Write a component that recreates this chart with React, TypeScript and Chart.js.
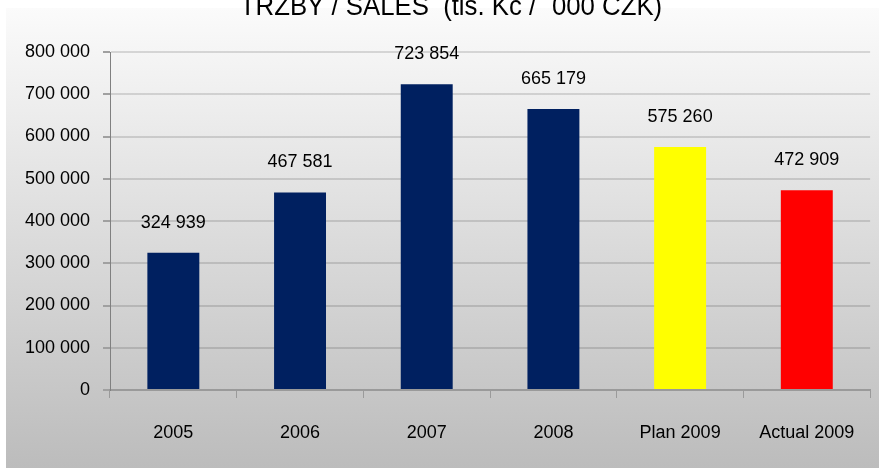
import React, { useEffect, useRef } from "react";
import { Chart, registerables } from "chart.js";

Chart.register(...registerables);

const categories = ["2005", "2006", "2007", "2008", "Plan 2009", "Actual 2009"];
const sales = [324939, 467581, 723854, 665179, 575260, 472909];
const barColors = ["#002060", "#002060", "#002060", "#002060", "#ffff00", "#ff0000"];
const titleText = "TRŽBY / SALES  (tis. Kč / ´000 CZK)";
const yMax = 800000;
const yStep = 100000;

const fmt = (v: number) => String(Math.round(v)).replace(/\B(?=(\d{3})+(?!\d))/g, " ");
const FONT = "'Liberation Sans', Arial, sans-serif";

const bgPlugin = {
  id: "bgPanel",
  beforeDraw(chart: any) {
    const { ctx, width, height } = chart;
    ctx.save();
    ctx.fillStyle = "#ffffff";
    ctx.fillRect(0, 0, width, height);
    const g = ctx.createLinearGradient(0, 8, 0, height);
    g.addColorStop(0, "#fbfbfb");
    g.addColorStop(1, "#bcbcbc");
    ctx.fillStyle = g;
    ctx.fillRect(6, 8, width - 6, height - 8);
    ctx.restore();
  },
};

const titlePlugin = {
  id: "cutTitle",
  afterDraw(chart: any) {
    const { ctx } = chart;
    ctx.save();
    ctx.font = `28px ${FONT}`;
    ctx.fillStyle = "#000000";
    ctx.textAlign = "center";
    ctx.textBaseline = "alphabetic";
    ctx.translate(451, 15);
    ctx.scale(0.92, 1);
    ctx.fillText(titleText, 0, 0);
    ctx.restore();
  },
};

const valueLabelPlugin = {
  id: "valueLabels",
  afterDatasetsDraw(chart: any) {
    const { ctx } = chart;
    const meta = chart.getDatasetMeta(0);
    const data = chart.data.datasets[0].data as number[];
    ctx.save();
    ctx.font = `18px ${FONT}`;
    ctx.fillStyle = "#000000";
    ctx.textAlign = "center";
    ctx.textBaseline = "middle";
    meta.data.forEach((bar: any, i: number) => {
      ctx.fillText(fmt(data[i]), bar.x, bar.y - 30);
    });
    ctx.restore();
  },
};

export default function App() {
  const ref = useRef<HTMLCanvasElement | null>(null);

  useEffect(() => {
    document.body.style.margin = "0";
    if (!ref.current) return;
    const chart = new Chart(ref.current, {
      type: "bar",
      data: {
        labels: categories,
        datasets: [
          {
            data: sales,
            backgroundColor: barColors,
            borderWidth: 0,
            barPercentage: 0.41,
            categoryPercentage: 1,
          },
        ],
      },
      options: {
        animation: false,
        responsive: false,
        maintainAspectRatio: false,
        layout: { padding: { top: 52, right: 8, left: 0, bottom: 0 } },
        plugins: {
          legend: { display: false },
          title: { display: false },
          tooltip: { enabled: false },
        },
        scales: {
          x: {
            afterFit: (s: any) => {
              s.height = 78;
            },
            grid: {
              offset: true,
              drawOnChartArea: false,
              drawTicks: true,
              tickLength: 8,
              color: "#9a9a9a",
              lineWidth: 1,
            },
            border: { display: true, color: "#9a9a9a", width: 2 },
            ticks: {
              color: "#000000",
              font: { family: FONT, size: 18 },
              padding: 24,
              maxRotation: 0,
              autoSkip: false,
            },
          },
          y: {
            min: 0,
            max: yMax,
            afterFit: (s: any) => {
              s.width = 110;
            },
            grid: {
              color: "rgba(0,0,0,0.13)",
              lineWidth: 2,
              drawTicks: true,
              tickLength: 7,
              tickColor: "#a0a0a0",
              tickWidth: 2,
            },
            border: { display: true, color: "#808080", width: 1 },
            ticks: {
              stepSize: yStep,
              color: "#000000",
              font: { family: FONT, size: 18 },
              padding: 13,
              callback: (v: any) => fmt(Number(v)),
            },
          },
        },
      },
      plugins: [bgPlugin, valueLabelPlugin, titlePlugin],
    });
    return () => chart.destroy();
  }, []);

  return (
    <div style={{ width: 879, height: 468, overflow: "hidden" }}>
      <canvas ref={ref} width={879} height={468} style={{ display: "block" }} />
    </div>
  );
}
